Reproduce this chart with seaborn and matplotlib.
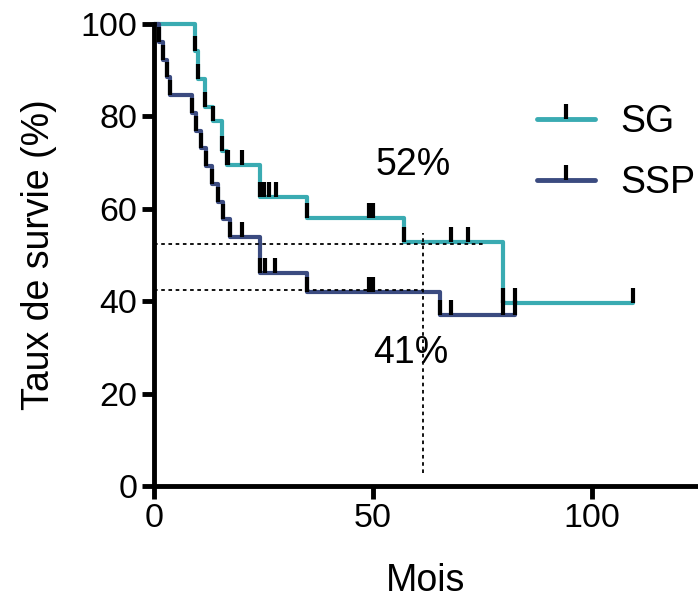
import numpy as np
import pandas as pd
import matplotlib
matplotlib.use("Agg")
import matplotlib.pyplot as plt
from matplotlib.lines import Line2D
import seaborn as sns

# Courbes de survie (temps en mois, survie en %)
sg_time = [0, 9.4, 10.0, 11.6, 13.5, 15.5, 16.7, 24.2, 35.0, 57.0, 79.7, 109.4]
sg_surv = [100, 94.1, 88.2, 82.0, 79.0, 72.5, 69.5, 62.5, 58.0, 52.8, 39.6, 39.6]
ssp_time = [0, 1.1, 2.0, 3.0, 3.7, 8.7, 9.6, 10.7, 11.9, 13.2, 14.5, 15.8, 17.4,
            24.2, 35.0, 65.3, 82.4]
ssp_surv = [100, 96.2, 92.3, 88.5, 84.6, 80.8, 76.9, 73.1, 69.2, 65.4, 61.5, 57.7,
            53.8, 46.2, 42.0, 37.0, 37.0]

# Patients censurés
sg_censor = [17.0, 20.0, 25.0, 26.3, 27.8, 49.0, 50.0, 67.7, 71.7, 82.4, 109.4]
ssp_censor = [20.0, 25.3, 27.6, 49.0, 50.0, 67.7, 79.7, 82.4]

groups = ["SG", "SSP"]
colors = ["#3aabb2", "#3b4b80"]

# Survie à 5 ans
ref_month = 61.5
ref_sg = 52.4
ref_ssp = 42.4

df = pd.concat([
    pd.DataFrame({"Mois": sg_time, "Survie": sg_surv, "Groupe": "SG"}),
    pd.DataFrame({"Mois": ssp_time, "Survie": ssp_surv, "Groupe": "SSP"}),
])


def level_at(times, surv, t):
    idx = np.searchsorted(times, t, side="right") - 1
    return np.asarray(surv)[idx]


sns.set_style("ticks")
plt.rcParams["font.family"] = ["Liberation Sans", "DejaVu Sans"]
plt.rcParams.update({"text.color": "black", "axes.labelcolor": "black",
                     "xtick.color": "black", "ytick.color": "black"})

fig = plt.figure(figsize=(6.98, 6.0), dpi=100)
ax = fig.add_axes([154 / 698, 114 / 600, 544 / 698, 462 / 600])

sns.lineplot(data=df, x="Mois", y="Survie", hue="Groupe", palette=colors,
             estimator=None, sort=False, drawstyle="steps-post", lw=3,
             legend=False, ax=ax, clip_on=False)

# ticks de censure + ticks aux chutes
for times, surv, cens in [(sg_time, sg_surv, sg_censor), (ssp_time, ssp_surv, ssp_censor)]:
    drops = np.array(times[1:-1])
    drop_lv = np.array(surv[1:-1])
    cens = np.array(cens)
    cens_lv = level_at(times, surv, cens)
    ax.plot(np.concatenate([drops, cens]), np.concatenate([drop_lv, cens_lv]),
            linestyle="none", marker=2, ms=11, mew=3, color="black", clip_on=False)

# lignes pointillées
dot = dict(color="black", lw=1.3, linestyle=(0, (2, 2)))
ax.plot([0, 75], [ref_sg, ref_sg], **dot)
ax.plot([0, ref_month], [ref_ssp, ref_ssp], **dot)
ax.plot([ref_month, ref_month], [2.8, 54.7], **dot)

ax.text(59.2, 69.5, "52%", fontsize=27, ha="center", va="center")
ax.text(58.7, 28.8, "41%", fontsize=27, ha="center", va="center")

ax.set_xlim(0, 124.2)
ax.set_ylim(0, 100)
ax.set_xticks([0, 50, 100])
ax.set_yticks([0, 20, 40, 60, 80, 100])
ax.tick_params(labelsize=24.5, width=3.5, length=9, pad=3)
for s in ["left", "bottom"]:
    ax.spines[s].set_linewidth(3.5)
    ax.spines[s].set_color("black")
sns.despine(ax=ax)
ax.set_xlabel("Mois", fontsize=27, labelpad=21)
ax.set_ylabel("Taux de survie (%)", fontsize=27, labelpad=17)

handles = [Line2D([], [], color=c, lw=3.5, marker=2, ms=11, mew=3,
                  markeredgecolor="black") for c in colors]
ax.legend(handles, groups, loc="upper left", bbox_to_anchor=(0.704, 0.826),
          frameon=False, fontsize=27, handlelength=1.55, handletextpad=0.67,
          labelspacing=0.66, borderaxespad=0, borderpad=0)

fig.savefig("out.png", dpi=100)
